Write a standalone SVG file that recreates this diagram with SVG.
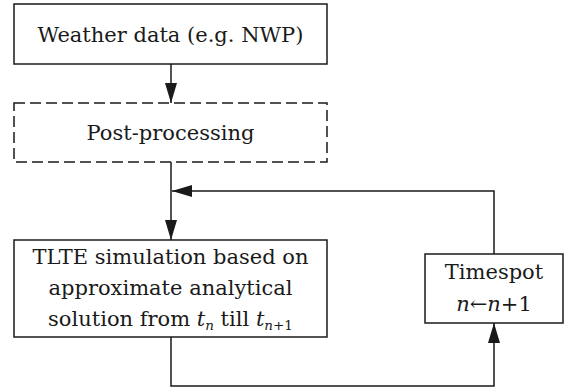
<svg xmlns="http://www.w3.org/2000/svg" width="576" height="389" viewBox="0 0 576 389">
<style>
.box{fill:#fff;stroke:#1a1a1a;stroke-width:1.5}
.dash{stroke-dasharray:11 5}
.t{font-family:"DejaVu Serif","Liberation Serif",serif;font-size:21px;fill:#1a1a1a;text-anchor:middle}
.i{font-style:italic}
.sub{font-size:13.5px}
.ln{fill:none;stroke:#1a1a1a;stroke-width:1.5}
</style>
<defs>
<marker id="ah" markerUnits="userSpaceOnUse" markerWidth="20" markerHeight="12" refX="20" refY="6" orient="auto">
<path d="M0,0 L20,6 L0,12 z" fill="#1a1a1a"/>
</marker>
</defs>
<g id="connectors">
<path class="ln" d="M171,64 V103" marker-end="url(#ah)"/>
<path class="ln" d="M171,162 V240" marker-end="url(#ah)"/>
<path class="ln" d="M494,254 V191 H172" marker-end="url(#ah)"/>
<path class="ln" d="M171,337 V386 H494 V323" marker-end="url(#ah)"/>
</g>
<g id="weather">
<rect class="box" x="14" y="4" width="313" height="60"/>
<text class="t" x="170.5" y="42">Weather data (e.g. NWP)</text>
</g>
<g id="postprocessing">
<rect class="box dash" x="14" y="103" width="313" height="59"/>
<text class="t" x="170.5" y="140">Post-processing</text>
</g>
<g id="tlte">
<rect class="box" x="14" y="240" width="313" height="97"/>
<text class="t" x="170.5" y="264">TLTE simulation based on</text>
<text class="t" x="170.5" y="295">approximate analytical</text>
<text class="t" x="170.5" y="326">solution from <tspan class="i">t</tspan><tspan class="i sub" dy="4">n</tspan><tspan dy="-4"> till </tspan><tspan class="i">t</tspan><tspan class="i sub" dy="4">n</tspan><tspan class="sub">+1</tspan></text>
</g>
<g id="timespot">
<rect class="box" x="425" y="254" width="138" height="69"/>
<text class="t" x="494" y="279">Timespot</text>
<text class="t" x="494" y="311"><tspan class="i">n</tspan>←<tspan class="i">n</tspan>+1</text>
</g>
</svg>
